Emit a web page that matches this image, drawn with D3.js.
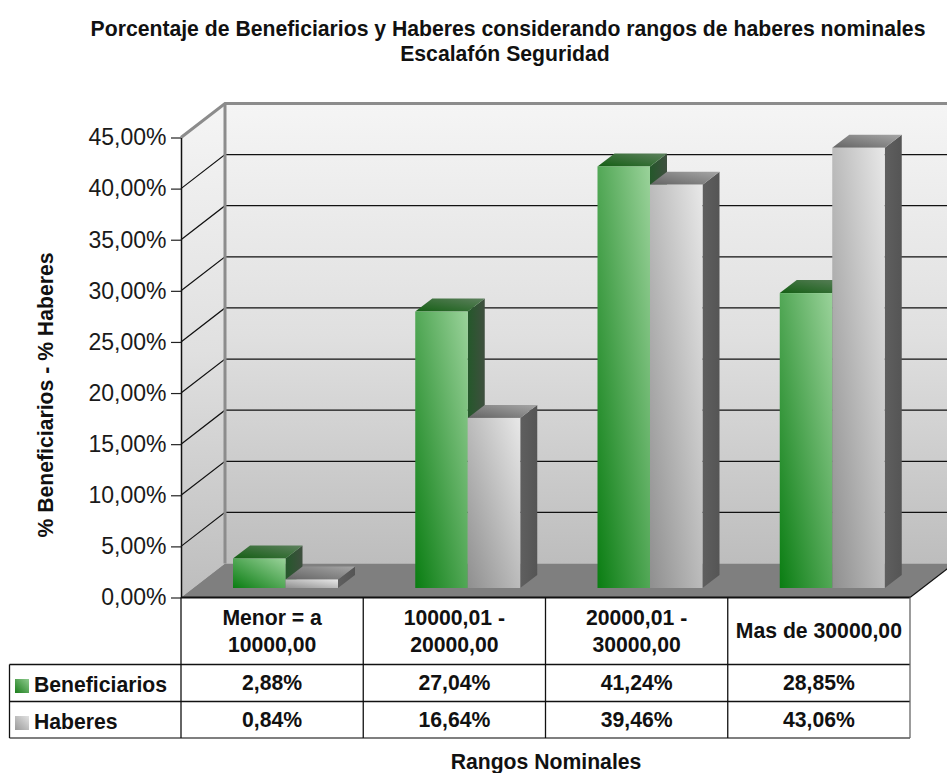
<!DOCTYPE html>
<html><head><meta charset="utf-8">
<script src="https://cdn.jsdelivr.net/npm/d3@7/dist/d3.min.js"></script>
<style>html,body{margin:0;padding:0;background:#fff}svg{display:block}text{font-family:"Liberation Sans",Arial,sans-serif}</style>
</head><body><div id="c"></div>
<script>
const categories = ["Menor = a|10000,00","10000,01 -|20000,00","20000,01 -|30000,00","Mas de 30000,00"];
const seriesNames = ["Beneficiarios","Haberes"];
const beneficiarios = [2.88,27.04,41.24,28.85];
const haberes = [0.84,16.64,39.46,43.06];
const beneficiariosLabels = ["2,88%","27,04%","41,24%","28,85%"];
const haberesLabels = ["0,84%","16,64%","39,46%","43,06%"];
const yTicks = [0,5,10,15,20,25,30,35,40,45];
const titleLines = ["Porcentaje de Beneficiarios y Haberes considerando rangos de haberes nominales","Escalafón Seguridad"];
const yTitle = "% Beneficiarios - % Haberes";
const xTitle = "Rangos Nominales";

const W=947,H=773;
const svg=d3.select("#c").append("svg").attr("width",W).attr("height",H);
const defs=svg.append("defs");
const x0=181,x1=910,y0=597.5,yTop=137.5;
const wallDx=44,wallDy=-34;
const y=d3.scaleLinear().domain([0,45]).range([y0,yTop]);
const x=d3.scaleBand().domain(d3.range(categories.length)).range([x0,x1]);
const inner=d3.scaleBand().domain([0,1]).range([0,105]);
const off={dx:11.5,dy:-9.5}, bd={dx:17,dy:-13};
const fmt=p=>"M"+p.map(q=>q.join(",")).join("L")+"Z";

function grad(id,c0,c1,dir,mid){
  const g=defs.append("linearGradient").attr("id",id);
  const [a,b,c,d]=dir; g.attr("x1",a).attr("y1",b).attr("x2",c).attr("y2",d);
  g.append("stop").attr("offset",0).attr("stop-color",c0);
  if(mid) g.append("stop").attr("offset",mid[0]).attr("stop-color",mid[1]);
  g.append("stop").attr("offset",1).attr("stop-color",c1);
}
grad("wall","#f5f5f5","#bdbdbd",[0,0,0,1],[0.5,"#e0e0e0"]);
grad("greenF","#0a7d12","#9ad29a",[0,1,1,0]);
grad("grayF","#8f8f8f","#e8e8e8",[0,1,1,0]);
grad("greenT","#145f14","#5d805d",[0,1,1,0]);
grad("grayT","#646464","#a6a6a6",[0,1,1,0]);
grad("greenS","#24582a","#3f4f3f",[0,0,1,0]);
grad("grayS","#5f5f5f","#555555",[0,0,1,0]);
grad("greenL","#1c7d1c","#8fcb8f",[0,1,1,0]);
grad("grayL","#9a9a9a","#e2e2e2",[0,1,1,0]);

// walls
const wallTop=y(45)+wallDy, wallBot=y0+wallDy;
svg.append("path").attr("d",fmt([[x0+wallDx,wallTop],[x1+wallDx,wallTop],[x1+wallDx,wallBot],[x0+wallDx,wallBot]])).attr("fill","url(#wall)");
svg.append("path").attr("d",fmt([[x0,yTop],[x0+wallDx,wallTop],[x0+wallDx,wallBot],[x0,y0]])).attr("fill","url(#wall)");
// floor
svg.append("path").attr("d",fmt([[x0,y0],[x1,y0],[x1+wallDx,wallBot],[x0+wallDx,wallBot]])).attr("fill","#7f7f7f");
// grid
yTicks.filter(t=>t>0&&t<45).forEach(t=>{
  const yy=y(t);
  svg.append("path").attr("d",`M${x0},${yy}L${x0+wallDx},${yy+wallDy}L${x1+wallDx},${yy+wallDy}`).attr("fill","none").attr("stroke","#111").attr("stroke-width",1.2);
});
// wall edges (thick grey)
svg.append("path").attr("d",`M${x0},${yTop}L${x0+wallDx},${wallTop}L${x1+wallDx},${wallTop}`).attr("fill","none").attr("stroke","#8c8c8c").attr("stroke-width",3);
svg.append("path").attr("d",`M${x0+wallDx},${wallTop}V${wallBot}`).attr("fill","none").attr("stroke","#8c8c8c").attr("stroke-width",3);
svg.append("path").attr("d",`M${x1},${y0}L${x1+wallDx},${wallBot}`).attr("fill","none").attr("stroke","#111").attr("stroke-width",1.2);

// bars
const h=v=>y0-y(v);
const baseY=y0+off.dy;
[beneficiarios,haberes].forEach((vals,si)=>{
  const f=si?"gray":"green";
  vals.forEach((v,i)=>{
    const l=x(i)+off.dx+40.5+inner(si), r=l+inner.bandwidth(), t=baseY-h(v);
    const g=svg.append("g");
    g.append("path").attr("d",fmt([[r,t],[r+bd.dx,t+bd.dy],[r+bd.dx,baseY+bd.dy],[r,baseY]])).attr("fill",`url(#${f}S)`);
    g.append("path").attr("d",fmt([[l,t],[l+bd.dx,t+bd.dy],[r+bd.dx,t+bd.dy],[r,t]])).attr("fill",`url(#${f}T)`);
    g.append("rect").attr("x",l).attr("y",t).attr("width",r-l).attr("height",baseY-t).attr("fill",`url(#${f}F)`);
  });
});

// axis
const axis=d3.axisLeft(y).tickValues(yTicks).tickFormat(t=>t.toFixed(2).replace(".",",")+"%").tickSize(10).tickSizeOuter(0);
const ag=svg.append("g").attr("transform",`translate(${x0},0)`).call(axis);
ag.selectAll("text").attr("font-size",23).attr("fill","#1a1a1a").attr("x",-14.5);
ag.selectAll("line").attr("stroke","#222").attr("stroke-width",1.2);
ag.select(".domain").attr("stroke","#111").attr("stroke-width",1.5);

// table
const left=9.5;
const T=svg.append("g").attr("stroke","#111").attr("stroke-width",1.3).attr("fill","none");
T.append("path").attr("d",`M${x0},${y0}H${x1}`).attr("stroke-width",1.8);
[664.5,701.5].forEach(r=>T.append("path").attr("d",`M${left},${r}H${x1}`));
T.append("path").attr("d",`M${left},738H${x1}`).attr("stroke","#555").attr("stroke-width",1.6);
T.append("path").attr("d",`M${left},664.5V738`);
d3.range(categories.length+1).forEach(i=>{
  const xx=i<categories.length?x(i):x1;
  T.append("path").attr("d",`M${xx},${y0}V738`).attr("stroke",i===categories.length?"#666":"#111");
});
const cx=i=>x(i)+x.bandwidth()/2;
const FS=21.2;
const tx=(s,xx,yy,fs,anchor)=>svg.append("text").text(s).attr("x",xx).attr("y",yy).attr("font-size",fs).attr("font-weight","bold").attr("fill","#111").attr("text-anchor",anchor||"middle");
categories.forEach((c,i)=>{
  const p=c.split("|");
  if(p.length===2){tx(p[0],cx(i),624.5,FS);tx(p[1],cx(i),652,FS);}
  else tx(p[0],cx(i),638,FS);
});
beneficiariosLabels.forEach((s,i)=>tx(s,cx(i),690,FS));
haberesLabels.forEach((s,i)=>tx(s,cx(i),727,FS));
tx(seriesNames[0],34,692,FS,"start");
tx(seriesNames[1],34,729,FS,"start");
svg.append("rect").attr("x",15).attr("y",679).attr("width",14).attr("height",14).attr("fill","url(#greenL)");
svg.append("rect").attr("x",15).attr("y",716).attr("width",14).attr("height",14).attr("fill","url(#grayL)");

// titles
tx(titleLines[0],508,36,FS);
tx(titleLines[1],505,61,FS);
tx(xTitle,546,768.5,FS);
svg.append("text").text(yTitle).attr("transform","translate(53,395) rotate(-90)").attr("text-anchor","middle").attr("font-size",FS).attr("font-weight","bold").attr("fill","#111");
</script></body></html>
